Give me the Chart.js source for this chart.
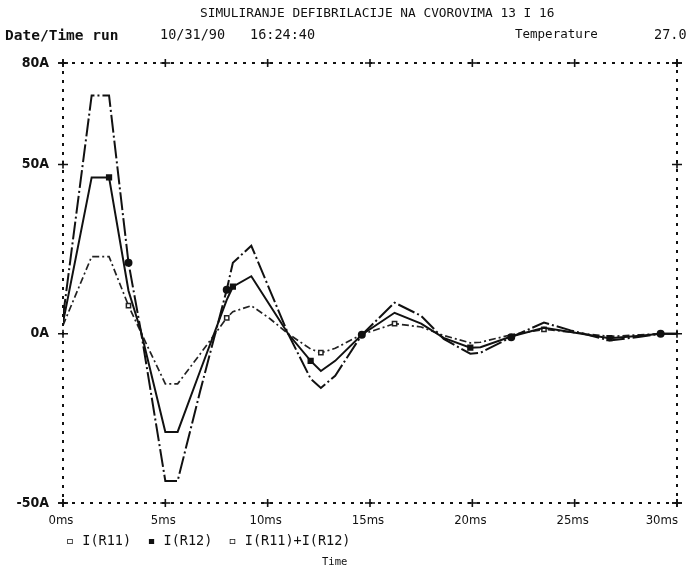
<!DOCTYPE html>
<html>
<head>
<meta charset="utf-8">
<script src="https://cdn.jsdelivr.net/npm/chart.js@4/dist/chart.umd.min.js"></script>
<style>
  html,body{margin:0;padding:0;background:#fff;}
  #wrap{position:relative;width:688px;height:568px;overflow:hidden;background:#fff;}
  canvas{position:absolute;left:0;top:0;}
  .t{position:absolute;white-space:pre;color:#111;font-family:"DejaVu Sans Mono",monospace;line-height:1;}
</style>
</head>
<body>
<div id="wrap">
  <canvas id="c" width="688" height="568"></canvas>
  <div class="t" style="left:200px;top:7px;font-size:12.8px;">SIMULIRANJE DEFIBRILACIJE NA CVOROVIMA 13 I 16</div>
  <div class="t" style="left:5px;top:28px;font-size:14.5px;font-weight:bold;">Date/Time run</div>
  <div class="t" style="left:160px;top:28px;font-size:13.5px;">10/31/90</div>
  <div class="t" style="left:250px;top:28px;font-size:13.5px;">16:24:40</div>
  <div class="t" style="left:515px;top:28px;font-size:12.5px;">Temperature</div>
  <div class="t" style="left:654px;top:28px;font-size:13.5px;">27.0</div>
  <div class="t" style="left:66px;top:534px;font-size:13.5px;">▫ I(R11)  ▪ I(R12)  ▫ I(R11)+I(R12)</div>
  <div class="t" style="left:322px;top:556px;font-size:10.5px;">Time</div>
</div>
<script>
// ---- data (time in ms, current in A) ----
const timesMs = [0, 1.4, 2.25, 3.2, 3.8, 5.0, 5.6, 6.7, 8.0, 8.3, 9.2, 10.1, 11.0, 12.1, 12.6, 13.3, 14.6, 16.2, 17.5, 18.6, 19.9, 20.4, 21.9, 23.5, 24.8, 26.7, 28.2, 29.2, 30];
const iR11 = [2.5, 22.8, 22.8, 8.3, 0.5, -14.8, -14.8, -6, 4.7, 6.5, 8.3, 4.5, 0, -4.5, -5.6, -4.3, -0.2, 3, 2, -0.5, -2.7, -2.5, -0.3, 1.3, 0.5, -0.8, -0.3, 0, 0];
const iR12 = [3.3, 46.2, 46.2, 12.7, 0.9, -29, -29, -11, 10, 13.9, 17, 8.5, 0, -8, -11, -8, -0.3, 6.2, 3, -1.2, -4.1, -4, -0.8, 1.8, 0.5, -1.3, -0.6, 0, 0];
const iSum = [5, 70.4, 70.4, 21, 1, -43.5, -43.5, -17, 13, 21, 26, 13, 0, -13.3, -16, -12.4, -0.3, 9.2, 5.3, -1.5, -5.9, -5.6, -1, 3.3, 1, -2, -0.9, 0, 0];
const xTickValues = [0, 5, 10, 15, 20, 25, 30];
const xTickLabels = ['0ms', '5ms', '10ms', '15ms', '20ms', '25ms', '30ms'];
const yTickValues = [-50, 0, 50, 80];
const yTickLabels = ['-50A', '0A', '50A', '80A'];

// marker positions (indices) per trace
const markR11 = [3, 8, 14, 17, 23];
const markR12 = [2, 9, 13, 20, 25];
const markSum = [3, 8, 16, 22, 27];

const pts = vals => timesMs.map((t, i) => ({x: t, y: vals[i]}));
const radiusFor = idx => ctx => idx.includes(ctx.dataIndex) ? 3 : 0;

const framePlugin = {
  id: 'frame',
  afterDraw(chart) {
    const {ctx, chartArea: a, scales} = chart;
    ctx.save();
    ctx.strokeStyle = '#111';
    ctx.lineWidth = 2;
    ctx.setLineDash([3, 6]);
    ctx.strokeRect(a.left, a.top, a.right - a.left, a.bottom - a.top);
    ctx.setLineDash([]);
    ctx.lineWidth = 1.6;
    const plus = (x, y) => {
      ctx.beginPath();
      ctx.moveTo(x - 5, y); ctx.lineTo(x + 5, y);
      ctx.moveTo(x, y - 4); ctx.lineTo(x, y + 4);
      ctx.stroke();
    };
    xTickValues.forEach(v => {
      const x = scales.x.getPixelForValue(v);
      plus(x, a.top); plus(x, a.bottom);
    });
    yTickValues.forEach(v => {
      const y = scales.y.getPixelForValue(v);
      plus(a.left, y); plus(a.right, y);
    });
    // x tick labels
    ctx.fillStyle = '#111';
    ctx.font = '13px "DejaVu Sans Condensed", "DejaVu Sans", sans-serif';
    ctx.textBaseline = 'middle';
    xTickValues.forEach((v, i) => {
      const x = scales.x.getPixelForValue(v);
      const last = i === xTickValues.length - 1;
      ctx.textAlign = last ? 'right' : 'center';
      ctx.fillText(xTickLabels[i], last ? x + 1 : x - 2, a.bottom + 18);
    });
    ctx.restore();
  }
};

new Chart(document.getElementById('c'), {
  type: 'line',
  data: {
    datasets: [
      {label: 'I(R11)+I(R12)', data: pts(iSum), borderColor: '#111', backgroundColor: '#111',
       borderWidth: 2, borderDash: [18, 3, 2, 3], pointRadius: radiusFor(markSum), pointStyle: 'circle', tension: 0},
      {label: 'I(R12)', data: pts(iR12), borderColor: '#111', backgroundColor: '#111',
       borderWidth: 2, pointRadius: radiusFor(markR12), pointStyle: 'rect', tension: 0},
      {label: 'I(R11)', data: pts(iR11), borderColor: '#222', backgroundColor: '#fff',
       borderWidth: 1.7, borderDash: [7, 3, 2, 3], pointRadius: radiusFor(markR11), pointStyle: 'rect', pointBorderWidth: 1.5, tension: 0}
    ]
  },
  options: {
    responsive: false,
    animation: false,
    devicePixelRatio: 1,
    layout: {padding: {top: 63, right: 11, bottom: 0, left: 0}},
    plugins: {legend: {display: false}, tooltip: {enabled: false}, title: {display: false}},
    scales: {
      x: {
        type: 'linear', min: 0, max: 30,
        grid: {display: false}, border: {display: false},
        ticks: {display: false},
        afterBuildTicks: s => { s.ticks = xTickValues.map(v => ({value: v})); },
        afterFit: s => { s.height = 65; s.paddingLeft = 0; s.paddingRight = 0; }
      },
      y: {
        type: 'linear', min: -50, max: 80,
        grid: {display: false}, border: {display: false},
        afterBuildTicks: s => { s.ticks = yTickValues.map(v => ({value: v})); },
        ticks: {
          color: '#111', padding: 6,
          font: {family: '"DejaVu Sans Condensed", "DejaVu Sans", sans-serif', size: 14, weight: 'bold'},
          callback: v => yTickLabels[yTickValues.indexOf(v)]
        },
        afterFit: s => { s.width = 63; s.paddingTop = 0; s.paddingBottom = 0; }
      }
    }
  },
  plugins: [framePlugin]
});
</script>
</body>
</html>
